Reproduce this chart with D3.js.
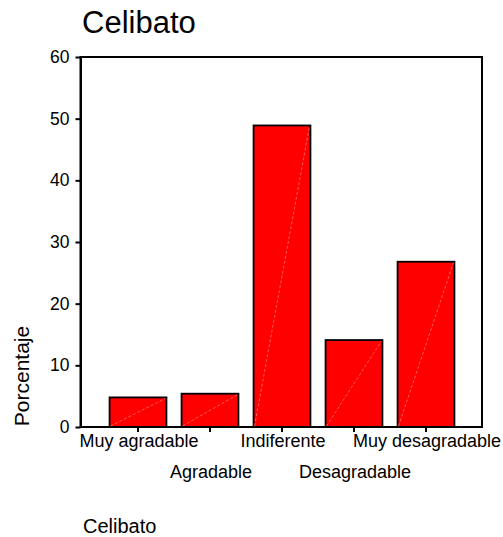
<!DOCTYPE html>
<html>
<head>
<meta charset="utf-8">
<script src="https://cdn.jsdelivr.net/npm/d3@7/dist/d3.min.js"></script>
<style>
  html, body { margin: 0; padding: 0; background: #fff; }
  svg { display: block; font-family: Arial, "Liberation Sans", sans-serif; }
</style>
</head>
<body>
<svg id="chart" width="503" height="537"></svg>
<script>
const categories = ["Muy agradable", "Agradable", "Indiferente", "Desagradable", "Muy desagradable"];
const percentages = [4.8, 5.4, 48.9, 14.1, 26.8];
const yTicks = [0, 10, 20, 30, 40, 50, 60];
const title = "Celibato";
const yLabel = "Porcentaje";
const footer = "Celibato";

const svg = d3.select("#chart");
const plot = { left: 80.5, right: 482, top: 57, bottom: 427 };

const x = d3.scaleBand()
  .domain(categories)
  .range([102, 462])
  .paddingInner(0.21)
  .paddingOuter(0.105);

const y = d3.scaleLinear().domain([0, 60]).range([plot.bottom, plot.top]);

// Title
svg.append("text")
  .attr("x", 82).attr("y", 33)
  .attr("font-size", 31)
  .attr("fill", "#000")
  .text(title);

// Bars
const bars = svg.append("g");
bars.selectAll("rect")
  .data(categories)
  .enter().append("rect")
  .attr("x", d => x(d))
  .attr("y", (d, i) => y(percentages[i]))
  .attr("width", x.bandwidth())
  .attr("height", (d, i) => y(0) - y(percentages[i]))
  .attr("fill", "#ff0000")
  .attr("stroke", "#000")
  .attr("stroke-width", 1.8);

// faint diagonal artifact lines
bars.selectAll("line")
  .data(categories)
  .enter().append("line")
  .attr("x1", d => x(d) + 1)
  .attr("y1", y(0) - 1)
  .attr("x2", d => x(d) + x.bandwidth() - 1)
  .attr("y2", (d, i) => y(percentages[i]) + 1)
  .attr("stroke", "#ff9a9a")
  .attr("stroke-width", 0.6)
  .attr("stroke-dasharray", "3,2");

// Frame
svg.append("rect")
  .attr("x", plot.left).attr("y", plot.top)
  .attr("width", plot.right - plot.left)
  .attr("height", plot.bottom - plot.top)
  .attr("fill", "none")
  .attr("stroke", "#000")
  .attr("stroke-width", 2);

// Y axis
const yAxis = svg.append("g")
  .attr("transform", `translate(${plot.left},0)`)
  .call(d3.axisLeft(y).tickValues(yTicks).tickSize(5).tickSizeOuter(0).tickPadding(6));
yAxis.select(".domain").attr("stroke-width", 2);
yAxis.selectAll(".tick line").attr("stroke-width", 2);
yAxis.selectAll(".tick text")
  .attr("font-size", 17.5)
  .attr("font-family", "Arial, 'Liberation Sans', sans-serif")
  .attr("fill", "#000");

// X axis ticks
const xAxis = svg.append("g")
  .attr("transform", `translate(0,${plot.bottom})`)
  .call(d3.axisBottom(x).tickSize(5).tickSizeOuter(0).tickFormat(""));
xAxis.select(".domain").remove();
xAxis.selectAll(".tick line").attr("stroke-width", 2);

// X labels staggered
svg.append("g").selectAll("text")
  .data(categories)
  .enter().append("text")
  .attr("x", d => x(d) + x.bandwidth() / 2 + 1)
  .attr("y", (d, i) => i % 2 === 0 ? 447 : 478)
  .attr("text-anchor", "middle")
  .attr("font-size", 18)
  .attr("fill", "#000")
  .text(d => d);

// Y label
svg.append("text")
  .attr("transform", "translate(29,376) rotate(-90)")
  .attr("text-anchor", "middle")
  .attr("font-size", 21)
  .attr("fill", "#000")
  .text(yLabel);

// Footer
svg.append("text")
  .attr("x", 83).attr("y", 533)
  .attr("font-size", 20)
  .attr("fill", "#000")
  .text(footer);
</script>
</body>
</html>
